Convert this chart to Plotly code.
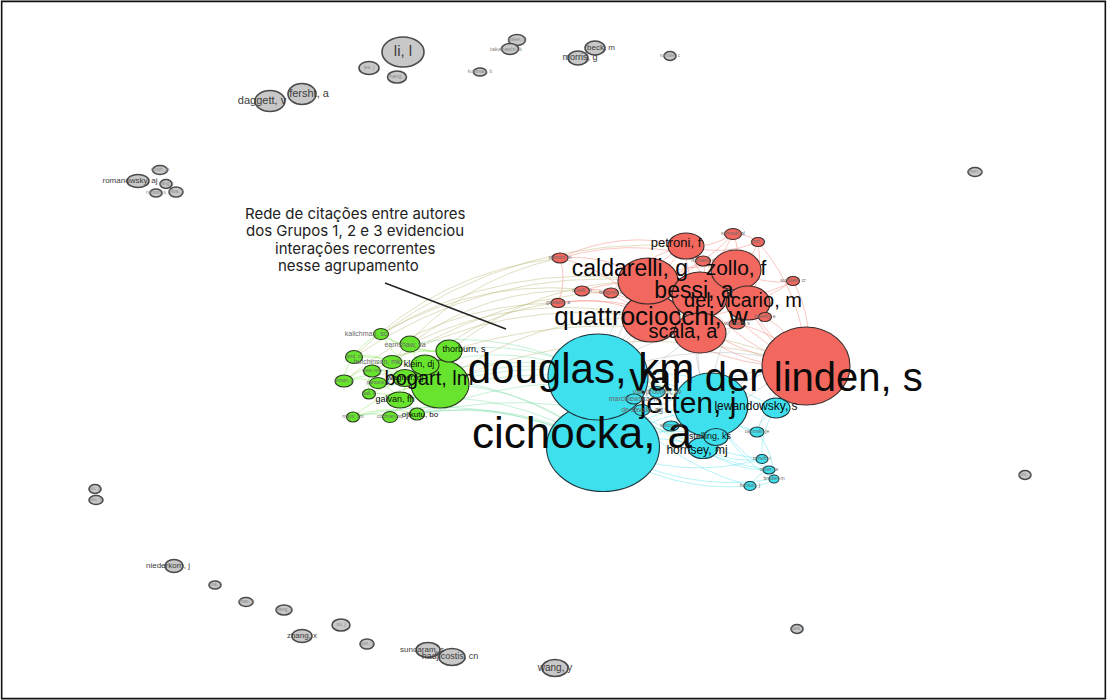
import plotly.graph_objects as go

# ---------------- data ----------------
node_id = [
    # group 1 (red)
    "vdl", "qua", "bes", "cal", "zol", "dvi", "sca", "pet",
    "r1", "r2", "r3", "r4", "r5", "r6", "r7", "r8", "r9", "r10",
    # group 2 (cyan)
    "cic", "dou", "jet", "lew", "hor", "ste", "vpr", "mar", "dza",
    "c1", "c2", "c3", "c4", "c5", "c6",
    # group 3 (green)
    "bog", "tho", "ear", "kal", "kle", "hut", "wag", "gal", "oji",
    "g1", "g2", "g3", "g4", "g5", "g6", "g7",
    # isolated / other (gray)
    "li", "lee", "zhy", "fer", "dag", "kuh", "bak", "tak", "bec", "mor", "san",
    "smi", "rom", "yan", "sil", "nel", "che", "kim", "liu", "wux",
    "nie", "mal", "zha", "wah", "zhx", "xuj", "suy", "sun", "had", "way", "par",
]
node_label = [
    "van der linden, s", "quattrociocchi, w", "bessi, a", "caldarelli, g", "zollo, f",
    "del vicario, m", "scala, a", "petroni, f",
    "starnini, m", "cinelli, m", "brugnoli, e", "galeazzi, a", "schmidt, al", "uzzi, b",
    "mocanu, d", "sunstein, cr", "vosoughi, s", "bakshy, e",
    "cichocka, a", "douglas, km", "jetten, j", "lewandowsky, s", "hornsey, mj",
    "stelling, ks", "van prooijen, jw", "marchlewska, m", "de zavala, ag",
    "sutton, rm", "uscinski, je", "imhoff, r", "oliver, je", "hanson, j", "bruder, m",
    "bogart, lm", "thorburn, s", "earnshaw, va", "kalichman, sc", "klein, dj",
    "hutchinson, mk", "wagner, gj", "galvan, fh", "ojikutu, bo",
    "ford, cl", "ross, mw", "simon, p", "parsons, jt", "ball, k", "mays, vm", "cochran, sd",
    "li, l", "lee, j", "zhang, y", "fersht, a", "daggett, v", "kuhlman, b", "baker, d",
    "takahashi, k", "beck, m", "morris, g", "sander, c",
    "smith, ja", "romanowsky, aj", "yang, j", "silva, a", "nelson, s", "chen, x",
    "kim, s", "liu, y", "wu, x",
    "niederkorn, j", "ma, l", "zhao, q", "wang, h", "zhang, x", "xu, j", "sun, y",
    "sundaram, s", "hadjicostis, cn", "wang, y", "park, j",
]
node_group = (
    [1] * 18 + [2] * 15 + [3] * 16 + [0] * 31
)
node_x = [
    806, 651, 700, 648, 736, 748, 700, 686,
    560, 582, 611, 558, 733, 758, 703, 793, 737, 765,
    603, 598, 711, 776, 703, 716, 657, 634, 642,
    671, 757, 762, 769, 750, 774,
    440, 449, 410, 381, 425, 392, 405, 400, 417,
    354, 372, 344, 378, 369, 353, 390,
    403, 369, 397, 302, 270, 480, 517, 510, 595, 578, 670,
    160, 138, 166, 176, 156, 975, 1025, 95, 96,
    174, 215, 246, 284, 302, 341, 367, 428, 452, 555, 797,
]
node_y = [
    366, 318, 295, 281, 270, 303, 333, 246,
    258, 291, 293, 303, 234, 242, 261, 281, 324, 317,
    447, 377, 405, 408, 448, 437, 392, 399, 410,
    426, 432, 459, 470, 486, 479,
    384, 351, 344, 334, 365, 362, 378, 400, 414,
    357, 371, 381, 383, 394, 417, 417,
    52, 68, 77, 94, 101, 72, 40, 49, 48, 58, 56,
    170, 181, 184, 192, 193, 172, 475, 489, 500,
    566, 585, 602, 610, 636, 625, 644, 650, 657, 668, 629,
]
node_weight_w = [
    88, 58, 56, 60, 50, 44, 52, 36,
    16, 15, 15, 14, 17, 13, 15, 13, 16, 13,
    113, 100, 74, 28, 30, 24, 16, 16, 16,
    16, 14, 12, 12, 12, 10,
    58, 26, 20, 15, 28, 20, 24, 26, 15,
    17, 17, 18, 17, 13, 13, 15,
    42, 20, 19, 28, 30, 13, 17, 17, 20, 20, 12,
    15, 22, 12, 14, 12, 14, 12, 12, 14,
    18, 12, 14, 16, 20, 18, 14, 24, 26, 26, 12,
]
node_weight_h = [
    78, 48, 46, 46, 40, 34, 40, 26,
    10, 10, 10, 9, 11, 9, 10, 9, 10, 9,
    89, 86, 64, 20, 21, 17, 11, 10, 11,
    10, 10, 9, 8, 9, 8,
    48, 22, 16, 11, 20, 13, 17, 16, 12,
    13, 12, 12, 11, 10, 10, 11,
    30, 13, 12, 21, 21, 8, 11, 11, 14, 14, 9,
    9, 13, 9, 10, 8, 9, 9, 9, 9,
    13, 8, 9, 10, 13, 12, 10, 15, 17, 17, 9,
]
label_size = [
    40, 26, 23, 23, 21, 20, 20, 13,
    5, 5, 5, 5, 5, 5, 5, 5, 5, 5,
    44, 42, 30, 12, 12, 9, 7, 7, 7,
    5, 5, 5, 5, 5, 5,
    20, 9, 7, 7, 9, 7, 8, 9, 8,
    5, 5, 5, 5, 5, 5, 5,
    15, 5, 5, 11, 11, 5, 5, 6, 8, 9, 5,
    5, 8, 5, 5, 5, 5, 5, 5, 5,
    8, 5, 5, 5, 8, 5, 5, 8, 9, 10, 5,
]
label_offset = {
    "vdl": (-30, 15), "cic": (-21, -10), "dou": (-17, -5), "jet": (-23, 0),
    "cal": (-18, -11), "bes": (-6, -3), "sca": (-17, 0), "pet": (-10, -2),
    "dvi": (-5, -1), "bog": (-11, -4), "lew": (-20, -1), "hor": (-6, 3),
    "ste": (-6, 0), "tho": (15, -1), "kal": (-15, 0), "ear": (-5, 1),
    "kle": (-6, 0), "hut": (-15, 0), "gal": (-5, 0), "oji": (3, 1),
    "fer": (7, 0), "dag": (-8, 0), "rom": (-8, 0), "nie": (-6, 0),
    "had": (-2, 0), "sun": (-6, 0), "zhx": (0, 0), "way": (0, 0),
    "bec": (6, 0), "mor": (2, 0), "tak": (-4, 0),
}

edges = [
    # group 1
    "vdl-qua", "vdl-bes", "vdl-sca", "vdl-dvi", "vdl-zol", "vdl-cal", "vdl-pet",
    "qua-bes", "qua-cal", "qua-zol", "qua-dvi", "qua-sca", "qua-pet",
    "bes-cal", "bes-zol", "bes-dvi", "bes-sca", "bes-pet",
    "cal-zol", "cal-pet", "cal-sca", "zol-dvi", "zol-pet", "dvi-sca",
    "r1-cal", "r1-qua", "r2-qua", "r2-bes", "r3-cal", "r3-qua", "r4-qua", "r4-sca",
    "r5-pet", "r5-zol", "r6-zol", "r6-pet", "r7-bes", "r7-cal", "r8-vdl", "r8-zol",
    "r9-sca", "r9-vdl", "r10-vdl", "r10-dvi", "r5-r6", "r1-r4", "r2-r3", "r5-cal",
    "r6-dvi", "r8-bes", "r1-pet", "r6-vdl", "r5-qua", "r8-qua", "r1-zol", "r3-pet",
    # group 2
    "cic-dou", "cic-jet", "dou-jet", "cic-lew", "dou-lew", "jet-lew",
    "cic-hor", "dou-hor", "jet-hor", "cic-ste", "jet-ste", "cic-vpr", "dou-vpr",
    "jet-vpr", "cic-mar", "dou-mar", "cic-dza", "dou-dza", "c1-cic", "c1-jet",
    "c2-lew", "c2-jet", "c3-lew", "c3-hor", "c4-hor", "c4-c3", "c5-c4", "c6-c5",
    "c2-c6", "c1-c2", "c5-cic", "c6-jet", "c3-cic", "c4-dou", "c5-dou", "c6-cic",
    "c4-jet", "c3-dou",
    # group 3
    "bog-tho", "bog-ear", "bog-kal", "bog-kle", "bog-hut", "bog-wag", "bog-gal",
    "bog-oji", "tho-ear", "tho-kal", "tho-kle", "kle-wag", "gal-oji", "ear-kal",
    "g1-bog", "g1-hut", "g2-bog", "g2-wag", "g3-bog", "g3-g4", "g4-gal", "g5-gal",
    "g5-g2", "g6-oji", "g6-g7", "g7-bog", "g1-kal", "g3-g1", "hut-kle", "wag-gal",
    "g6-bog", "g5-bog", "g4-bog", "g3-tho",
    # between groups
    "bog-dou", "bog-cic", "bog-vdl", "bog-qua", "tho-dou", "tho-cal", "kal-cal",
    "ear-qua", "kle-dou", "wag-cic", "gal-cic", "oji-cic", "kal-r3", "ear-r2",
    "hut-bes", "tho-vdl", "bog-jet", "wag-jet", "g1-r1", "g3-r4", "kal-pet",
    "cic-vdl", "dou-vdl", "jet-vdl", "dou-qua", "cic-qua", "jet-sca", "dou-bes",
    "cic-cal", "lew-vdl", "hor-vdl", "jet-bes", "dou-sca", "cic-sca", "jet-dvi",
    "c2-vdl", "dou-cal", "oji-hor", "gal-jet", "ear-dou", "g1-cal", "g2-qua",
    "hut-r1", "kle-r4", "g7-cic", "g6-cic", "oji-jet",
    # gray groups
    "li-lee", "li-zhy", "lee-zhy", "fer-dag", "bak-tak", "bec-mor", "smi-rom",
    "rom-yan", "yan-sil", "sil-nel", "liu-wux", "sun-had",
]

annotation_lines = [
    "Rede de citações entre autores",
    "dos Grupos 1, 2 e 3 evidenciou",
    "interações recorrentes",
    "nesse agrupamento",
]

# ---------------- styles ----------------
fill = {1: (242, 104, 94), 2: (62, 224, 238), 3: (104, 228, 46), 0: (200, 200, 200)}
outline = {1: "#3a2a2a", 2: "#1f3a40", 3: "#2a3a20", 0: "#4a4a4a"}

idx = {k: i for i, k in enumerate(node_id)}

shapes = []
# edges as curved paths
for e in edges:
    a, b = e.split("-")
    i, j = idx[a], idx[b]
    x0, y0, x1, y1 = node_x[i], node_y[i], node_x[j], node_y[j]
    mx, my = (x0 + x1) / 2, (y0 + y1) / 2
    dx, dy = x1 - x0, y1 - y0
    cx, cy = mx + 0.18 * dy, my - 0.18 * dx
    ca, cb = fill[node_group[i]], fill[node_group[j]]
    col = tuple(int((ca[k] + cb[k]) / 2) for k in range(3))
    if node_group[i] != node_group[j]:
        col = tuple(int(0.75 * col[k] + 0.25 * 200) for k in range(3))
        alpha = 0.4
    else:
        alpha = 0.38 if node_group[i] else 0.25
    shapes.append(dict(
        type="path", xref="x", yref="y", layer="below",
        path=f"M {x0},{y0} Q {cx},{cy} {x1},{y1}",
        line=dict(color=f"rgba({col[0]},{col[1]},{col[2]},{alpha})", width=1.0),
    ))

# nodes as ellipses, biggest first
order = sorted(range(len(node_id)), key=lambda i: -node_weight_w[i] * node_weight_h[i])
for i in order:
    g = node_group[i]
    r, gg, b = fill[g]
    w, h = node_weight_w[i], node_weight_h[i]
    shapes.append(dict(
        type="circle", xref="x", yref="y", layer="below",
        x0=node_x[i] - w / 2, x1=node_x[i] + w / 2,
        y0=node_y[i] - h / 2, y1=node_y[i] + h / 2,
        fillcolor=f"rgb({r},{gg},{b})",
        line=dict(color=outline[g], width=1.6 if g == 0 else 1.1),
    ))

# annotation pointer line
shapes.append(dict(type="line", xref="x", yref="y", x0=385, y0=283, x1=506, y1=329,
                   line=dict(color="#222222", width=1.4)))
# frame
shapes.append(dict(type="rect", xref="paper", yref="paper", x0=0.0015, y0=0.002,
                   x1=0.9985, y1=0.998, line=dict(color="#111111", width=1.6)))

lx, ly, lc = [], [], []
for i, k in enumerate(node_id):
    ox, oy = label_offset.get(k, (0, 0))
    lx.append(node_x[i] + ox)
    ly.append(node_y[i] + oy)
    s = label_size[i]
    if node_group[i] == 0:
        lc.append("#3c3c3c" if s >= 8 else "#8a8a8a")
    else:
        lc.append("#0a0a0a" if s >= 8 else "#6a6a6a")

fig = go.Figure()
fig.add_trace(go.Scatter(
    x=lx, y=ly, mode="text", text=node_label, textposition="middle center",
    textfont=dict(size=label_size, color=lc, family="Liberation Sans, Arial, sans-serif"),
    hoverinfo="skip", showlegend=False,
))

line_x = [355, 355, 355, 348]
line_y = [213, 230.5, 248, 265.5]
for t, ax_, ay_ in zip(annotation_lines, line_x, line_y):
    fig.add_annotation(
        x=ax_, y=ay_, xref="x", yref="y", text=t, showarrow=False,
        font=dict(family="Inter, Roboto, sans-serif", size=15, color="#222222"),
    )

fig.update_layout(
    width=1107, height=700, margin=dict(l=0, r=0, t=0, b=0),
    paper_bgcolor="white", plot_bgcolor="white",
    xaxis=dict(range=[0, 1107], visible=False, fixedrange=True),
    yaxis=dict(range=[700, 0], visible=False, fixedrange=True),
    shapes=shapes, showlegend=False,
)

fig.write_html(
    "out.html",
    config={"displayModeBar": False},
    post_script="document.body.style.margin='0';document.body.style.overflow='hidden';",
)
